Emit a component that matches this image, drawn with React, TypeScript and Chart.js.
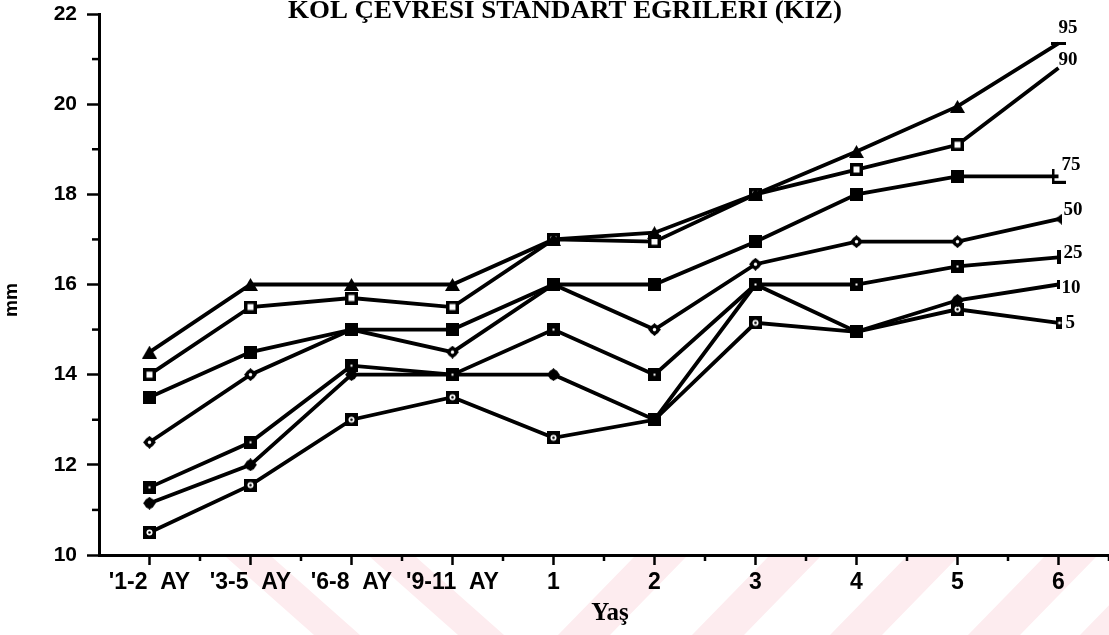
import { useEffect, useRef } from "react";
import { Chart, registerables } from "chart.js";

Chart.register(...registerables);

// ---------- data ----------
const ageLabels = ["'1-2  AY", "'3-5  AY", "'6-8  AY", "'9-11  AY", "1", "2", "3", "4", "5", "6"];
const p95 = [14.5, 16, 16, 16, 17, 17.15, 18, 18.95, 19.95, 21.35];
const p90 = [14, 15.5, 15.7, 15.5, 17, 16.95, 18, 18.55, 19.1, 20.8];
const p75 = [13.5, 14.5, 15, 15, 16, 16, 16.95, 18, 18.4, 18.4];
const p50 = [12.5, 14, 15, 14.5, 16, 15, 16.45, 16.95, 16.95, 17.45];
const p25 = [11.5, 12.5, 14.2, 14, 15, 14, 16, 16, 16.4, 16.6];
const p10 = [11.15, 12, 14, 14, 14, 13, 16, 14.95, 15.65, 16];
const p5 = [10.5, 11.55, 13, 13.5, 12.6, 13, 15.15, 14.95, 15.45, 15.15];
const percentileNames = ["95", "90", "75", "50", "25", "10", "5"];
const yMin = 10;
const yMax = 22;
const titleText = "KOL ÇEVRESI STANDART EGRILERI (KIZ)";
const yTitle = "mm";
const xTitle = "Yaş";

// ---------- styling / layout (not data) ----------
const W = 1109;
const H = 635;
const endLabelOffsets: [number, number][] = [
  [0, -15],
  [0, -8],
  [3, -11],
  [5, -9],
  [5, -4],
  [3, 4],
  [7, 0],
];

function mk(w: number, h: number, draw: (g: CanvasRenderingContext2D) => void) {
  const c = document.createElement("canvas");
  c.width = w;
  c.height = h;
  const g = c.getContext("2d")!;
  g.fillStyle = "#000";
  draw(g);
  return c;
}

function buildMarkers() {
  const tri = mk(15, 13, (g) => {
    g.beginPath();
    g.moveTo(7.5, 0);
    g.lineTo(15, 13);
    g.lineTo(0, 13);
    g.closePath();
    g.fill();
  });
  const openSq = mk(13, 13, (g) => {
    g.fillRect(0, 0, 13, 13);
    g.fillStyle = "#fff";
    g.fillRect(3.5, 3.5, 6, 6);
  });
  const fillSq = mk(13, 13, (g) => g.fillRect(0, 0, 13, 13));
  const circDot = mk(13, 13, (g) => {
    g.beginPath();
    g.moveTo(6.5, 0);
    g.lineTo(13, 6.5);
    g.lineTo(6.5, 13);
    g.lineTo(0, 6.5);
    g.closePath();
    g.fill();
    g.beginPath();
    g.arc(6.5, 6.5, 5, 0, Math.PI * 2);
    g.fill();
    g.fillStyle = "#fff";
    g.beginPath();
    g.arc(6.5, 6.5, 1.7, 0, Math.PI * 2);
    g.fill();
  });
  const sqDot = mk(13, 13, (g) => {
    g.fillRect(0, 0, 13, 13);
    g.fillStyle = "#fff";
    g.fillRect(5.5, 5.5, 2, 2);
  });
  const fillDia = mk(13, 13, (g) => {
    g.beginPath();
    g.moveTo(6.5, 0);
    g.lineTo(13, 6.5);
    g.lineTo(6.5, 13);
    g.lineTo(0, 6.5);
    g.closePath();
    g.fill();
    g.beginPath();
    g.arc(6.5, 6.5, 5.2, 0, Math.PI * 2);
    g.fill();
  });
  const sqRing = mk(13, 13, (g) => {
    g.fillRect(0, 0, 13, 13);
    g.fillStyle = "#fff";
    g.beginPath();
    g.arc(6.5, 6.5, 3, 0, Math.PI * 2);
    g.fill();
    g.fillStyle = "#000";
    g.beginPath();
    g.arc(6.5, 6.5, 1.3, 0, Math.PI * 2);
    g.fill();
  });
  // clipped end-of-line marks at age 6
  const endDash = mk(15, 3, (g) => g.fillRect(0, 0, 15, 3));
  const endEll = mk(14, 15, (g) => {
    g.fillRect(0, 0, 3, 15);
    g.fillRect(0, 12, 14, 3);
  });
  const endTri = mk(7, 11, (g) => {
    g.beginPath();
    g.moveTo(0, 5.5);
    g.lineTo(7, 0);
    g.lineTo(7, 11);
    g.closePath();
    g.fill();
  });
  const endBar = mk(4, 14, (g) => g.fillRect(0, 0, 4, 14));
  const endBarSmall = mk(3, 9, (g) => g.fillRect(0, 0, 3, 9));
  const endHalf = mk(6, 12, (g) => {
    g.fillRect(0, 0, 6, 12);
    g.fillStyle = "#fff";
    g.beginPath();
    g.arc(4, 6, 1.5, 0, Math.PI * 2);
    g.fill();
  });
  return {
    main: [tri, openSq, fillSq, circDot, sqDot, fillDia, sqRing],
    end: [endDash, null, endEll, endTri, endBar, endBarSmall, endHalf],
  };
}

export default function App() {
  const ref = useRef<HTMLCanvasElement | null>(null);

  useEffect(() => {
    document.body.style.margin = "0";
    const canvas = ref.current;
    if (!canvas) return;
    const markers = buildMarkers();
    const series = [p95, p90, p75, p50, p25, p10, p5];
    const n = ageLabels.length;

    const datasets = series.map((values, si) => {
      const end = markers.end[si];
      const styles = values.map((_, i) => (i === n - 1 ? end || "circle" : markers.main[si]));
      const radii = values.map((_, i) => (i === n - 1 && !end ? 0 : 6));
      return {
        label: percentileNames[si],
        data: values,
        borderColor: "#000",
        backgroundColor: "#000",
        borderWidth: 3.8,
        pointStyle: styles as any,
        pointRadius: radii,
        pointHoverRadius: radii,
        tension: 0,
        fill: false,
      };
    });

    const decorPlugin = {
      id: "decor",
      beforeDraw(chart: any) {
        const ctx = chart.ctx as CanvasRenderingContext2D;
        ctx.save();
        ctx.fillStyle = "rgb(253,236,239)";
        const top = 557;
        const bottom = H;
        // "\" bands
        for (const tl of [226, 370]) {
          ctx.beginPath();
          ctx.moveTo(tl, top);
          ctx.lineTo(tl + 46, top);
          ctx.lineTo(tl + 46 + 88, bottom);
          ctx.lineTo(tl + 88, bottom);
          ctx.closePath();
          ctx.fill();
        }
        // "/" bands
        for (const bl of [558, 692, 830, 968, 1080]) {
          ctx.beginPath();
          ctx.moveTo(bl, bottom);
          ctx.lineTo(bl + 52, bottom);
          ctx.lineTo(bl + 52 + 76, top);
          ctx.lineTo(bl + 76, top);
          ctx.closePath();
          ctx.fill();
        }
        ctx.restore();
      },
      afterDraw(chart: any) {
        const ctx = chart.ctx as CanvasRenderingContext2D;
        const xs = chart.scales.x;
        const ys = chart.scales.y;
        const area = chart.chartArea;
        ctx.save();
        ctx.fillStyle = "#000";
        ctx.strokeStyle = "#000";
        // minor y ticks at odd values
        ctx.lineWidth = 2.5;
        for (let v = yMin + 1; v < yMax; v += 2) {
          const y = ys.getPixelForValue(v);
          ctx.beginPath();
          ctx.moveTo(area.left - 7, y);
          ctx.lineTo(area.left, y);
          ctx.stroke();
        }
        // minor x ticks at category boundaries
        for (let i = 0; i < n; i++) {
          const x = (xs.getPixelForValue(i) + xs.getPixelForValue(i + 1)) / 2;
          ctx.beginPath();
          ctx.moveTo(x, area.bottom);
          ctx.lineTo(x, area.bottom + 6);
          ctx.stroke();
        }
        // title
        ctx.font = "bold 26px 'Liberation Serif', serif";
        ctx.textBaseline = "alphabetic";
        ctx.textAlign = "center";
        const tw = ctx.measureText(titleText).width;
        ctx.save();
        ctx.translate(565, 18);
        ctx.scale(554 / tw, 1);
        ctx.fillText(titleText, 0, 0);
        ctx.restore();
        // y title
        ctx.save();
        ctx.font = "bold 19px 'Liberation Sans', Arial, sans-serif";
        ctx.translate(12, 300);
        ctx.rotate(-Math.PI / 2);
        const mw = ctx.measureText(yTitle).width;
        ctx.scale(34 / mw, 1);
        ctx.textAlign = "center";
        ctx.textBaseline = "middle";
        ctx.fillText(yTitle, 0, 0);
        ctx.restore();
        // x title
        ctx.font = "bold 25px 'Liberation Serif', serif";
        ctx.textAlign = "center";
        ctx.textBaseline = "alphabetic";
        ctx.fillText(xTitle, (area.left + area.right) / 2 + 6, 620);
        // end labels
        ctx.font = "bold 19px 'Liberation Serif', serif";
        ctx.textAlign = "left";
        ctx.textBaseline = "middle";
        series.forEach((values, si) => {
          const x = xs.getPixelForValue(n - 1);
          const y = ys.getPixelForValue(values[n - 1]);
          const [dx, dy] = endLabelOffsets[si];
          ctx.fillText(percentileNames[si], x + dx, y + dy);
        });
        ctx.restore();
      },
    };

    const chart = new Chart(canvas, {
      type: "line",
      data: { labels: ageLabels, datasets: datasets as any },
      plugins: [decorPlugin],
      options: {
        responsive: false,
        animation: false,
        devicePixelRatio: 1,
        layout: { autoPadding: false, padding: { top: 14, right: 0, left: 0, bottom: 0 } },
        plugins: {
          legend: { display: false },
          title: { display: false },
          tooltip: { enabled: false },
        },
        scales: {
          x: {
            type: "category",
            offset: true,
            grid: {
              offset: false,
              drawOnChartArea: false,
              drawTicks: true,
              tickLength: 10,
              tickWidth: 2.5,
              tickColor: "#000",
            },
            border: { display: true, color: "#000", width: 3 },
            ticks: {
              color: "#000",
              padding: 4,
              maxRotation: 0,
              autoSkip: false,
              font: { family: "'Liberation Sans', Arial, sans-serif", size: 23, weight: "bold" },
            },
            afterFit: (s: any) => {
              s.height = 80;
              s.paddingLeft = 0;
              s.paddingRight = 0;
            },
          },
          y: {
            min: yMin,
            max: yMax,
            grid: {
              drawOnChartArea: false,
              drawTicks: true,
              tickLength: 12,
              tickWidth: 2.5,
              tickColor: "#000",
            },
            border: { display: true, color: "#000", width: 3 },
            ticks: {
              stepSize: 2,
              color: "#000",
              padding: 10,
              font: { family: "'Liberation Sans', Arial, sans-serif", size: 21, weight: "bold" },
            },
            afterFit: (s: any) => {
              s.width = 99;
              s.paddingTop = 0;
              s.paddingBottom = 0;
            },
          },
        },
      },
    });
    return () => chart.destroy();
  }, []);

  return (
    <div style={{ position: "fixed", left: 0, top: 0, width: W, height: H, background: "#fff" }}>
      <canvas ref={ref} width={W} height={H} style={{ display: "block", width: W, height: H }} />
    </div>
  );
}
